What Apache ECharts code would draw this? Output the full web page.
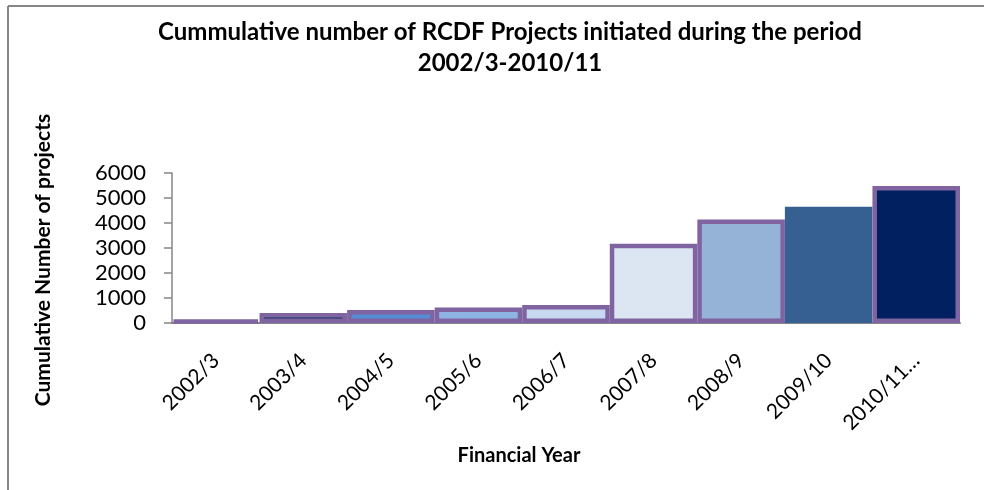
<!DOCTYPE html>
<html>
<head>
<meta charset="utf-8">
<script src="https://cdn.jsdelivr.net/npm/echarts@6/dist/echarts.min.js"></script>
<style>
  html, body { margin: 0; padding: 0; background: #ffffff; }
  #chart { width: 984px; height: 490px; }
</style>
</head>
<body>
<div id="chart"></div>
<script>
const categories = ['2002/3', '2003/4', '2004/5', '2005/6', '2006/7', '2007/8', '2008/9', '2009/10', '2010/11…'];
const projectCounts = [120, 400, 520, 620, 720, 3170, 4140, 4650, 5480];
const barColors = ['#4F81BD', '#17375E', '#558ED5', '#8EB4E3', '#C6D9F1', '#DCE6F2', '#95B3D7', '#376092', '#002060'];
const barBorders = [true, true, true, true, true, true, true, false, true];
const yTicks = [0, 1000, 2000, 3000, 4000, 5000, 6000];
const titleText = 'Cummulative number of RCDF Projects initiated during the period\n2002/3-2010/11';
const yAxisTitle = 'Cumulative Number of projects';
const xAxisTitle = 'Financial Year';

const FONT = 'Lato';
const chart = echarts.init(document.getElementById('chart'), null, { renderer: 'canvas' });

const data = projectCounts.map((v, i) => ({
  value: v,
  itemStyle: {
    color: barColors[i],
    borderColor: '#8064A2',
    borderWidth: barBorders[i] ? 4.5 : 0
  }
}));

chart.setOption({
  animation: false,
  backgroundColor: '#ffffff',
  title: [
    {
      text: titleText,
      left: 505, top: 12, textAlign: 'center',
      textStyle: { fontFamily: FONT, fontWeight: 'bold', fontSize: 24, color: '#000', lineHeight: 31 }
    },
    {
      text: xAxisTitle,
      left: 514, top: 441, textAlign: 'center',
      textStyle: { fontFamily: FONT, fontWeight: 'bold', fontSize: 20, color: '#000' }
    }
  ],
  graphic: [
    { type: 'line', shape: { x1: 8, y1: 6, x2: 984, y2: 6 }, style: { stroke: '#868686', lineWidth: 2 } },
    { type: 'line', shape: { x1: 8, y1: 6, x2: 8, y2: 490 }, style: { stroke: '#868686', lineWidth: 2 } },
    {
      type: 'text', x: 43, y: 260, rotation: Math.PI / 2,
      style: { text: yAxisTitle, fontFamily: FONT, fontWeight: 'bold', fontSize: 21, fill: '#000', align: 'center', verticalAlign: 'middle' }
    }
  ],
  grid: { left: 172, right: 24, top: 173, bottom: 167, containLabel: false },
  xAxis: {
    type: 'category',
    data: categories,
    axisLine: { show: true, lineStyle: { color: '#868686', width: 2 } },
    axisTick: { show: false },
    axisLabel: { rotate: 45, margin: 34, interval: 0, fontFamily: FONT, fontSize: 21, color: '#000' }
  },
  yAxis: {
    type: 'value',
    min: 0, max: 6000, interval: 1000,
    axisLine: { show: true, lineStyle: { color: '#868686', width: 1.5 } },
    axisTick: { show: true, length: 8, lineStyle: { color: '#868686', width: 1.5 } },
    splitLine: { show: false },
    axisLabel: {
      margin: 26, fontFamily: FONT, fontSize: 22, color: '#000',
      formatter: v => yTicks.includes(v) ? String(v) : ''
    }
  },
  series: [{
    type: 'bar',
    data: data,
    barWidth: '100%',
    barCategoryGap: '0%'
  }]
});
</script>
</body>
</html>
